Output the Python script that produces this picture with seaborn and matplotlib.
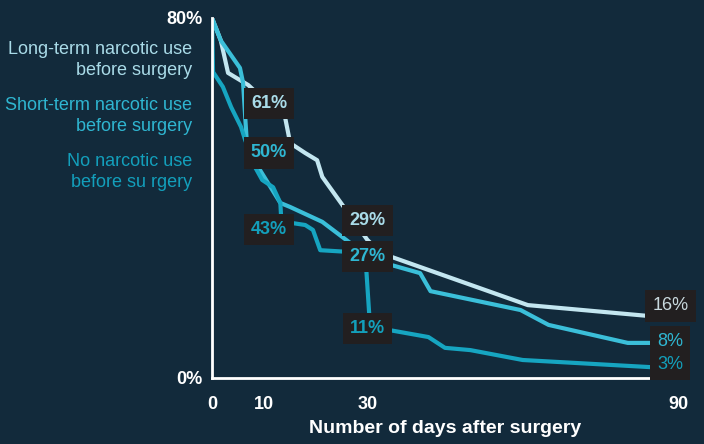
import numpy as np
import pandas as pd
import matplotlib
matplotlib.use("Agg")
import matplotlib.pyplot as plt
import seaborn as sns

# share of patients still using narcotics
long_days = [0, 1.7, 3.1, 7, 12.8, 14.1, 15.1, 18, 20.3, 21.3, 30, 32.5, 61, 88]
long_pct = [80, 75, 67.8, 65.1, 58.9, 58, 52.2, 50, 48.4, 44.7, 30.7, 27.8, 16.2, 13.4]

short_days = [0, 1.7, 5.4, 6, 7, 8.9, 13.2, 15.1, 21.3, 26.7, 30, 32.5, 40.2, 42.2, 59.6, 65, 80.3, 88]
short_pct = [80, 75, 68.9, 65.6, 47.3, 46.9, 38.9, 38, 34.7, 30, 27, 25.8, 23.3, 19.3, 15.1, 11.8, 7.8, 7.8]

none_days = [0, 0.2, 2.1, 3.7, 5.6, 6.4, 7.4, 8.3, 9.7, 11.8, 13.2, 13.4, 15.7, 18, 19.5,
             20.9, 26.7, 29.6, 30.5, 34, 41.8, 45, 49.9, 60, 88]
none_pct = [80, 68, 64.7, 60.2, 55.8, 52.9, 50, 46.9, 44, 42.4, 38.9, 34.7, 34.4, 34, 32.9,
            28.4, 28, 27.6, 11.8, 10.7, 9.1, 6.7, 6.2, 4, 2.2]

groups = ["Long-term narcotic use\nbefore surgery",
          "Short-term narcotic use\nbefore surgery",
          "No narcotic use\nbefore su rgery"]
line_colors = ["#c3e6f0", "#3bbfd9", "#16a5c1"]
text_colors = ["#a9dbe8", "#2fb6d1", "#139fbb"]

label_days = [11, 30, 88.5]
label_vals = [[61, 29, 16], [50, 27, 8], [43, 11, 3]]
# two labels are nudged off their line in the original
label_shift = {(0, 1): 6, (2, 0): -10}

bg = "#122a3b"

frames = []
for g, d, p in zip(groups, [long_days, short_days, none_days], [long_pct, short_pct, none_pct]):
    frames.append(pd.DataFrame({"day": d, "pct": p, "group": g}))
df = pd.concat(frames, ignore_index=True)

sns.set_style("white")
plt.rcParams["font.family"] = ["Liberation Sans", "DejaVu Sans"]

fig = plt.figure(figsize=(7.04, 4.44), dpi=100, facecolor=bg)
ax = fig.add_axes([212 / 704, 1 - 378 / 444, 466 / 704, 360 / 444])
ax.set_facecolor(bg)

sns.lineplot(data=df, x="day", y="pct", hue="group", hue_order=groups,
             palette=line_colors, sort=False, estimator=None, lw=3.0,
             legend=False, ax=ax)

for i in range(3):
    for j in range(3):
        v = label_vals[i][j]
        y = v + label_shift.get((i, j), 0)
        ax.text(label_days[j], y, f"{v}%", ha="center", va="center",
                fontsize=13, color=text_colors[i] if not (i == 0 and j == 2) else "#c9d9de",
                fontweight="bold" if j < 2 else "normal", zorder=5,
                bbox=dict(boxstyle="square,pad=0.4", fc="#221f20", ec="none"))

ax.set_xlim(0, 90)
ax.set_ylim(0, 80)
ax.set_xticks([0, 10, 30, 90])
ax.set_xticklabels(["0", "10", "30", "90"])
ax.set_yticks([0, 80])
ax.set_yticklabels(["0%", "80%"])
for s in ["top", "right"]:
    ax.spines[s].set_visible(False)
for s in ["left", "bottom"]:
    ax.spines[s].set_color("white")
    ax.spines[s].set_linewidth(2)
ax.tick_params(axis="x", colors="white", length=7, width=2, direction="out", pad=6, labelsize=13)
ax.tick_params(axis="y", colors="white", length=5, width=2, direction="out", pad=2, labelsize=13)
for t in ax.get_xticklabels() + ax.get_yticklabels():
    t.set_fontweight("bold")
ax.set_xlabel("Number of days after surgery", color="white", fontsize=14,
              fontweight="bold", labelpad=5)
ax.set_ylabel("")

legend_y = [60, 116, 172]
for g, c, y in zip(groups, text_colors, legend_y):
    fig.text(192 / 704, 1 - y / 444, g, ha="right", va="center", ma="right",
             color=c, fontsize=13, linespacing=1.35)

fig.savefig("out.png", dpi=100, facecolor=bg)
